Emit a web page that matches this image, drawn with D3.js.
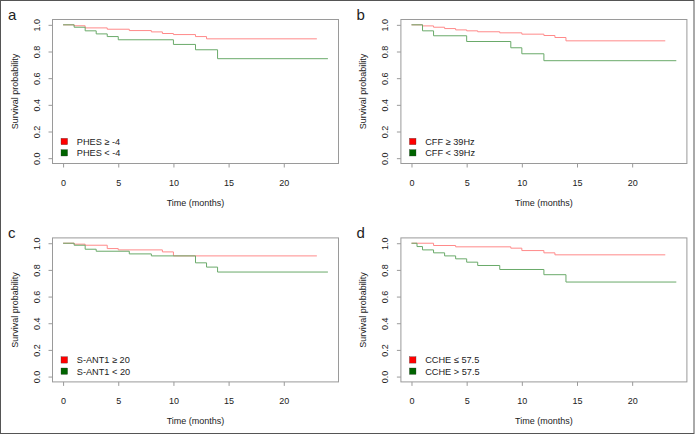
<!DOCTYPE html>
<html>
<head>
<meta charset="utf-8">
<script src="https://cdnjs.cloudflare.com/ajax/libs/d3/7.8.5/d3.min.js"></script>
<style>
html,body{margin:0;padding:0;background:#fff;}
svg{display:block;font-family:"Liberation Sans",Arial,sans-serif;}
</style>
</head>
<body>
<svg id="chart" width="695" height="436"></svg>
<script>
// ---- data ----
const panelLabels = ["a", "b", "c", "d"];
const legendHigh = ["PHES \u2265 -4", "CFF \u2265 39Hz", "S-ANT1 \u2265 20", "CCHE \u2264 57.5"];
const legendLow  = ["PHES < -4", "CFF < 39Hz", "S-ANT1 < 20", "CCHE > 57.5"];

const redTimesA = [0, 1, 2, 4, 6, 8, 9, 10, 12, 13, 23];
const redSurvA  = [1, 0.993, 0.977, 0.967, 0.957, 0.947, 0.935, 0.927, 0.912, 0.895, 0.895];
const greenTimesA = [0, 1, 2, 3, 4, 5, 10, 12, 14, 24];
const greenSurvA  = [1, 0.982, 0.955, 0.932, 0.912, 0.888, 0.853, 0.813, 0.746, 0.746];

const redTimesB = [0, 1, 2, 3, 4, 5, 6, 8, 10, 12, 13, 14, 23];
const redSurvB  = [1, 0.992, 0.982, 0.972, 0.962, 0.955, 0.948, 0.94, 0.93, 0.92, 0.905, 0.88, 0.88];
const greenTimesB = [0, 1, 2, 5, 9, 10, 12, 24];
const greenSurvB  = [1, 0.955, 0.918, 0.875, 0.828, 0.783, 0.731, 0.731];

const redTimesC = [0, 1, 2, 4, 5, 9, 10, 23];
const redSurvC  = [1, 0.993, 0.985, 0.96, 0.95, 0.935, 0.905, 0.905];
const greenTimesC = [0, 1, 2, 3, 6, 8, 12, 13, 14, 24];
const greenSurvC  = [1, 0.985, 0.955, 0.94, 0.92, 0.905, 0.853, 0.821, 0.784, 0.784];

const redTimesD = [0, 2, 4, 9, 10, 12, 13, 23];
const redSurvD  = [1, 0.983, 0.973, 0.963, 0.945, 0.928, 0.913, 0.913];
const greenTimesD = [0, 0.5, 1, 2, 3, 4, 5, 6, 8, 12, 14, 24];
const greenSurvD  = [1, 0.975, 0.95, 0.928, 0.905, 0.883, 0.858, 0.833, 0.803, 0.764, 0.709, 0.709];

const xTicks = [0, 5, 10, 15, 20];
const yTicks = [0, 0.2, 0.4, 0.6, 0.8, 1.0];
const xTitle = "Time (months)";
const yTitle = "Survival probability";

const redSeries = [[redTimesA, redSurvA], [redTimesB, redSurvB], [redTimesC, redSurvC], [redTimesD, redSurvD]];
const greenSeries = [[greenTimesA, greenSurvA], [greenTimesB, greenSurvB], [greenTimesC, greenSurvC], [greenTimesD, greenSurvD]];

// ---- layout ----
const svg = d3.select("#chart");
const W = 695, H = 436;
const offsets = [[0, 0], [348.4, 0], [0, 218.4], [348.4, 218.4]];
const L = 52.5, R = 338.5, T = 19.5, B = 163.5;

const x = d3.scaleLinear().domain([-0.96, 24.96]).range([L, R]);
const y = d3.scaleLinear().domain([-0.04, 1.04]).range([B, T]);

const axisColor = "#9a9a9a";
const textColor = "#222";
const redLine = "#ff8a8a";
const greenLine = "#6aaa6a";

svg.append("rect").attr("x", 0.5).attr("y", 0.5).attr("width", 693.5).attr("height", 433)
  .attr("fill", "none").attr("stroke", "#555").attr("stroke-width", 1);

const line = d3.line().x(d => x(d[0])).y(d => y(d[1])).curve(d3.curveStepAfter);

offsets.forEach((off, i) => {
  const g = svg.append("g").attr("transform", `translate(${off[0]},${off[1]})`);

  // box
  g.append("rect").attr("x", L).attr("y", T).attr("width", R - L).attr("height", B - T)
    .attr("fill", "none").attr("stroke", axisColor).attr("stroke-width", 1);

  // y axis
  const ya = g.append("g").attr("transform", `translate(${L},0)`)
    .call(d3.axisLeft(y).tickValues(yTicks).tickSize(4).tickSizeOuter(0).tickFormat(d3.format(".1f")));
  ya.select(".domain").remove();
  ya.selectAll(".tick line").attr("stroke", axisColor);
  ya.selectAll(".tick text")
    .attr("x", 0).attr("dy", 0)
    .attr("transform", "translate(-13,0) rotate(-90)")
    .attr("text-anchor", "middle")
    .attr("fill", textColor)
    .style("font-size", "9px").style("font-family", "'Liberation Sans', Arial, sans-serif");

  // x axis
  const xa = g.append("g").attr("transform", `translate(0,${B})`)
    .call(d3.axisBottom(x).tickValues(xTicks).tickSize(4).tickSizeOuter(0));
  xa.select(".domain").remove();
  xa.selectAll(".tick line").attr("stroke", axisColor);
  xa.selectAll(".tick text")
    .attr("y", 22).attr("dy", 0)
    .attr("fill", textColor)
    .style("font-size", "9px").style("font-family", "'Liberation Sans', Arial, sans-serif");

  // titles
  g.append("text").attr("x", (L + R) / 2).attr("y", 205.5)
    .attr("text-anchor", "middle").attr("fill", textColor).style("font-size", "9px")
    .text(xTitle);
  g.append("text").attr("transform", `translate(17.5,${(T + B) / 2}) rotate(-90)`)
    .attr("text-anchor", "middle").attr("fill", textColor).style("font-size", "9px")
    .text(yTitle);

  // panel label
  g.append("text").attr("x", 8).attr("y", 20).attr("fill", textColor)
    .style("font-size", "15px").text(panelLabels[i]);

  // curves
  const [rt, rs] = redSeries[i];
  const [gt, gs] = greenSeries[i];
  g.append("path").datum(d3.zip(rt, rs)).attr("d", line)
    .attr("fill", "none").attr("stroke", redLine).attr("stroke-width", 1);
  g.append("path").datum(d3.zip(gt, gs)).attr("d", line)
    .attr("fill", "none").attr("stroke", greenLine).attr("stroke-width", 1);

  // legend
  const lg = g.append("g");
  [[legendHigh[i], "#ff0000", 141.5], [legendLow[i], "#006400", 152.8]].forEach(([label, col, cy]) => {
    lg.append("rect").attr("x", 61).attr("y", cy - 3.2).attr("width", 6.6).attr("height", 6.4)
      .attr("fill", col).attr("stroke", "#333").attr("stroke-width", 0.3);
    lg.append("text").attr("x", 76.8).attr("y", cy + 3.4).attr("fill", textColor)
      .style("font-size", "9.2px").text(label);
  });
});
</script>
</body>
</html>
